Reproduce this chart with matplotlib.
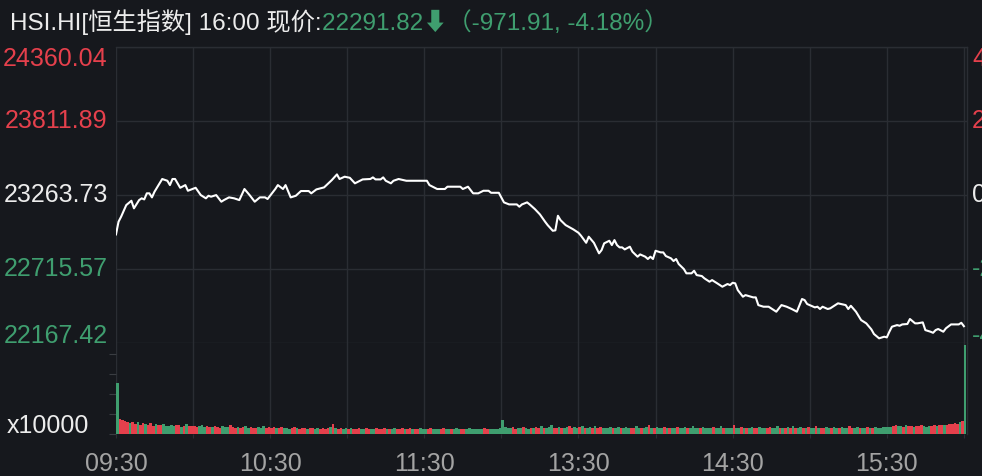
import matplotlib.pyplot as plt

plt.rcParams['font.family'] = ['Liberation Sans', 'Noto Sans CJK SC', 'DejaVu Sans']

# ---- data ----
name = 'HSI.HI[恒生指数]'
quote_time = '16:00'
last_price = 22291.82
change = -971.91
change_pct = -4.18
prev_close = 23263.73

price_ticks = [22167.42, 22715.57, 23263.73, 23811.89, 24360.04]
pct_labels = ['-4.71%', '-2.36%', '0.00%', '2.36%', '4.71%']
time_labels = ['09:30', '10:30', '11:30', '13:30', '14:30', '15:30']

# trading minute since 09:30 (lunch break removed) and index level
minutes = [0, 1, 2, 4, 6, 7, 9, 10, 11, 12, 13, 14, 15, 18, 20, 21, 22, 23, 25, 27,
           28, 31, 33, 35, 36, 37, 39, 41, 42, 44, 46, 48, 50, 52, 54, 56, 58, 59, 62, 63,
           65, 66, 68, 70, 72, 75, 76, 78, 81, 84, 86, 87, 89, 91, 93, 96, 99, 100, 101, 103,
           104, 105, 107, 108, 110, 113, 121, 122, 125, 128, 129, 134, 135, 137, 139, 141, 143, 145, 146, 149,
           151, 153, 156, 157, 158, 160, 161, 163, 165, 167, 168, 170, 171, 172, 173, 175, 178, 180, 181, 183,
           184, 186, 188, 189, 190, 192, 193, 194, 195, 196, 197, 198, 200, 201, 203, 204, 206, 207, 208, 209,
           210, 212, 213, 214, 216, 217, 218, 219, 221, 222, 224, 225, 226, 228, 229, 231, 232, 234, 236, 238,
           239, 240, 241, 242, 244, 245, 248, 249, 250, 252, 254, 257, 259, 261, 263, 265, 267, 268, 269, 272,
           273, 274, 275, 277, 278, 281, 284, 285, 286, 288, 290, 292, 294, 295, 297, 299, 300, 301, 302, 304,
           305, 306, 308, 309, 311, 312, 314, 315, 317, 318, 319, 320, 322, 323, 325, 327, 328, 329, 330]
prices = [22971, 23065, 23102, 23188, 23220, 23164, 23225, 23238, 23230, 23275, 23275, 23245, 23287, 23381, 23368, 23336, 23381, 23381, 23316, 23336,
          23294, 23316, 23262, 23238, 23257, 23250, 23262, 23213, 23225, 23245, 23238, 23225, 23307, 23262, 23213, 23245, 23245, 23233, 23307, 23336,
          23307, 23336, 23245, 23257, 23292, 23292, 23275, 23304, 23319, 23373, 23415, 23381, 23398, 23390, 23349, 23378, 23381, 23393, 23378, 23378,
          23393, 23368, 23349, 23368, 23381, 23368, 23368, 23336, 23307, 23307, 23324, 23324, 23307, 23324, 23275, 23275, 23294, 23294, 23279, 23279,
          23208, 23193, 23193, 23176, 23193, 23208, 23193, 23159, 23119, 23065, 23040, 22998, 23001, 23109, 23077, 23040, 23008, 22983, 22961, 22909,
          22954, 22909, 22831, 22855, 22905, 22924, 22892, 22929, 22892, 22875, 22875, 22860, 22880, 22843, 22806, 22823, 22806, 22789, 22806, 22789,
          22850, 22838, 22838, 22811, 22794, 22774, 22789, 22752, 22715, 22683, 22683, 22702, 22670, 22663, 22646, 22621, 22633, 22609, 22584, 22604,
          22596, 22613, 22609, 22559, 22510, 22522, 22505, 22505, 22448, 22436, 22436, 22399, 22448, 22436, 22419, 22399, 22493, 22485, 22456, 22431,
          22436, 22419, 22436, 22419, 22424, 22461, 22448, 22419, 22443, 22399, 22337, 22313, 22268, 22234, 22202, 22214, 22209, 22251, 22288, 22300,
          22295, 22305, 22308, 22345, 22313, 22313, 22320, 22263, 22251, 22243, 22263, 22271, 22251, 22276, 22305, 22305, 22305, 22317, 22291.82]

# per-minute volume (x10000), one bar per trading minute 0..330
volumes = [51, 15, 14, 13, 12, 11, 12, 10, 12, 9, 11, 10, 9, 11, 8, 10, 9, 9, 10, 8, 8, 9, 8, 9, 9, 7, 8, 10, 8, 8,
           8, 7, 8, 9, 7, 8, 7, 7, 8, 7, 6, 8, 7, 7, 9, 7, 6, 7, 6, 7, 8, 6, 7, 6, 6, 7, 6, 8, 6, 7,
           6, 7, 6, 6, 7, 6, 6, 5, 6, 7, 6, 5, 6, 6, 5, 6, 6, 5, 6, 5, 6, 5, 6, 7, 10, 6, 5, 6, 5, 6,
           5, 6, 5, 5, 6, 5, 5, 6, 5, 5, 5, 6, 5, 5, 6, 5, 5, 5, 6, 5, 5, 6, 5, 5, 6, 5, 5, 5, 6, 5,
           5, 5, 6, 5, 5, 5, 5, 6, 5, 5, 5, 5, 6, 5, 5, 5, 5, 6, 5, 5, 5, 5, 5, 6, 5, 5, 5, 5, 5, 6,
           14, 7, 6, 6, 7, 5, 6, 6, 7, 6, 5, 6, 6, 7, 6, 8, 6, 6, 7, 9, 6, 6, 7, 6, 6, 7, 8, 6, 7, 6,
           7, 8, 6, 6, 7, 6, 8, 6, 7, 6, 6, 6, 7, 6, 6, 7, 6, 6, 7, 6, 6, 6, 8, 6, 6, 6, 7, 9, 6, 6,
           7, 6, 6, 7, 6, 6, 6, 6, 7, 6, 6, 7, 6, 6, 8, 6, 6, 6, 7, 6, 6, 6, 7, 6, 6, 8, 6, 6, 6, 6,
           9, 6, 6, 7, 6, 6, 6, 7, 6, 6, 7, 6, 6, 6, 7, 6, 6, 8, 6, 6, 6, 7, 6, 8, 6, 6, 7, 6, 6, 7,
           6, 6, 8, 6, 6, 6, 7, 6, 6, 7, 6, 6, 7, 6, 6, 8, 6, 6, 7, 6, 6, 6, 7, 6, 6, 7, 6, 6, 7, 7,
           7, 7, 8, 9, 8, 8, 7, 9, 8, 8, 7, 8, 8, 9, 8, 7, 8, 8, 9, 8, 9, 9, 9, 9, 10, 10, 11, 10, 12, 13, 89]
# r = up minute, g = down minute
vol_dirs = ('grrrrgrrgr rgrrrgrrgg gggrrgrgrr'
            'rrgggrrgrr rgggrrrgrr ggrrrgggrr'
            'rrgrrgggrr grrrgrrggr rrrgrgrrgg'
            'rgrrrggrrg grrrrgrggr rrgrrgrrgg'
            'grrgggrrgg rgggrrgggg gggrrggggg'
            'ggggrrggrg grgrrgrggg rrgrggrrgg'
            'rgrggrgrrg gggrggrggg rrggrggrgr'
            'gggrgrggrg ggrggggrgg ggrgggrggg'
            'rggrgrggrr gggrrgggrg rgrgrggrgr'
            'ggrgrrggrg grgggrrggr ggrgrggggg'
            'ggrrggrgrr grrrgggrrg rrgrrrrrgr g').replace(' ', '')

BG = '#16181d'
GRID = '#2a2d33'
RED = '#e5404c'
GREEN = '#3f9e6f'
WHITE = '#ececec'
GREY = '#a3a3a3'
FS = 18

fig = plt.figure(figsize=(9.82, 4.76), dpi=100, facecolor=BG)
ax = fig.add_axes([0.1181, 0.2794, 0.8666, 0.6225])
axv = fig.add_axes([0.1181, 0.0882, 0.8666, 0.1912], sharex=ax)

for a in (ax, axv):
    a.set_facecolor(BG)
    for s in a.spines.values():
        s.set_color(GRID)
        s.set_linewidth(1)
    a.set_xticks(range(0, 331, 30))
    a.grid(True, color=GRID, linewidth=1)
    a.set_axisbelow(True)

# price pane
ax.plot(minutes, prices, color='white', linewidth=1.5, solid_joinstyle='round')
ax.set_xlim(0, 331.2)
ax.set_ylim(price_ticks[0], price_ticks[-1])
ax.set_yticks(price_ticks)
ax.set_yticklabels(['%.2f' % v for v in price_ticks])
ax.tick_params(axis='y', length=0, pad=6, labelsize=FS)
ax.tick_params(axis='x', length=0, labelbottom=False)
ax.spines['bottom'].set_visible(False)
ax.spines['left'].set_visible(False)

label_colors = [GREEN, GREEN, WHITE, RED, RED]
vas = ['baseline', 'center', 'center', 'center', 'top']

axr = ax.twinx()
axr.set_ylim(price_ticks[0], price_ticks[-1])
axr.set_yticks(price_ticks)
axr.set_yticklabels(pct_labels)
axr.tick_params(axis='y', length=0, pad=3.6, labelsize=FS)
for s in axr.spines.values():
    s.set_visible(False)

for labels in (ax.get_yticklabels(), axr.get_yticklabels()):
    for lab, c, va in zip(labels, label_colors, vas):
        lab.set_color(c)
        lab.set_va(va)

# volume pane
bar_colors = [RED if d == 'r' else GREEN for d in vol_dirs]
axv.bar(range(len(volumes)), volumes, width=1.0, align='edge', color=bar_colors, linewidth=0)
axv.set_ylim(0, 91)
axv.set_yticks([0, 20, 40, 60, 80])
axv.yaxis.grid(False)
axv.tick_params(axis='y', length=5, color='#3a3d42', labelleft=False)
axv.spines['bottom'].set_visible(False)
axv.spines['top'].set_visible(False)
axv.spines['left'].set_visible(False)

tick_labels = []
for m in range(0, 331, 30):
    tick_labels.append(time_labels[m // 60] if m % 60 == 0 and m // 60 < len(time_labels) else '')
axv.set_xticklabels(tick_labels)
axv.tick_params(axis='x', length=3, color=GRID, pad=10, labelsize=FS, labelcolor=GREY)

fig.text(7 / 982, 1 - 433 / 476, 'x10000', color=WHITE, fontsize=FS, va='baseline', ha='left')

# title
t1 = fig.text(10 / 982, 1 - 22 / 476, '%s %s 现价:' % (name, quote_time),
              color=WHITE, fontsize=17.5, va='center', ha='left')
ax.annotate('%.2f⬇（%.2f, %.2f%%）' % (last_price, change, change_pct),
            xy=(1, 0), xycoords=t1, va='bottom', ha='left',
            color=GREEN, fontsize=17.5, annotation_clip=False)

fig.savefig('out.png', dpi=100, facecolor=BG)
